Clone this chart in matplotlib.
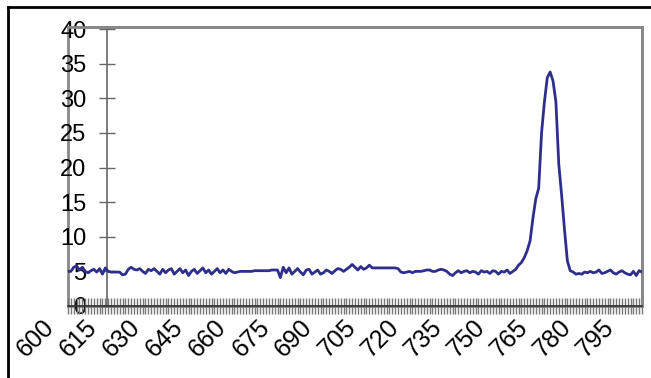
import numpy as np
import matplotlib
matplotlib.use("Agg")
import matplotlib.pyplot as plt
import matplotlib.transforms as mtransforms
from matplotlib.patches import Rectangle
from matplotlib.lines import Line2D

# wavelength (nm) and intensity
wavelength = np.arange(600, 801)
intensity = [
    5.0, 5.0, 5.6, 5.8, 5.2, 5.6, 5.0, 4.8, 5.1, 5.3,
    4.9, 5.4, 4.6, 5.5, 5.0, 4.9, 4.9, 4.9, 4.9, 4.5,
    4.6, 5.3, 5.6, 5.3, 5.2, 5.4, 5.0, 4.7, 5.3, 5.1,
    5.4, 5.0, 4.6, 5.3, 4.8, 5.2, 5.4, 4.6, 5.0, 5.4,
    4.8, 5.2, 4.4, 5.0, 5.3, 4.7, 5.1, 5.5, 4.8, 5.2,
    4.6, 5.0, 5.4, 4.8, 5.2, 4.7, 5.3, 5.0, 4.8, 4.9,
    5.0, 5.0, 5.0, 5.0, 5.0, 5.1, 5.1, 5.1, 5.1, 5.1,
    5.1, 5.2, 5.2, 5.2, 4.1, 5.6, 4.8, 5.5, 4.6, 5.0,
    5.4, 4.9, 4.5, 5.2, 5.3, 4.6, 4.9, 5.2, 4.6, 4.8,
    5.2, 5.0, 4.7, 5.1, 5.4, 5.3, 5.0, 5.3, 5.6, 6.0,
    5.6, 5.2, 5.7, 5.3, 5.5, 5.9, 5.5, 5.5, 5.5, 5.5,
    5.5, 5.5, 5.5, 5.5, 5.5, 5.4, 4.9, 4.8, 4.9, 5.0,
    4.8, 5.0, 5.0, 5.0, 5.1, 5.2, 5.2, 5.0, 5.0, 5.2,
    5.3, 5.2, 5.0, 4.6, 4.4, 4.8, 5.1, 4.8, 5.0, 5.1,
    4.8, 5.0, 4.9, 4.6, 5.1, 4.9, 5.0, 4.7, 5.1, 5.0,
    4.6, 5.0, 4.9, 5.2, 4.7, 5.0, 5.3, 5.9, 6.3, 7.0,
    8.0, 9.4, 12.7, 15.5, 17.0, 25.0, 29.5, 33.0, 33.8, 32.5,
    29.5, 20.5, 16.0, 11.0, 6.5, 5.1, 4.9, 4.6, 4.7, 4.6,
    4.9, 4.8, 5.0, 4.8, 4.9, 5.2, 4.7, 4.8, 5.0, 5.2,
    4.8, 4.6, 4.9, 5.1, 4.8, 4.6, 4.5, 5.0, 4.4, 5.1,
    4.9,
]
x_labels = [str(v) for v in range(600, 800, 15)]
y_ticks = [0, 5, 10, 15, 20, 25, 30, 35, 40]
y_axis_cross = 613.6

plt.rcParams['font.family'] = ['Liberation Sans', 'DejaVu Sans']

fig = plt.figure(figsize=(6.51, 3.78), dpi=100)
ax = fig.add_axes([68 / 651, 1 - 306 / 378, (642 - 68) / 651, (306 - 27) / 378])

ax.plot(wavelength, intensity, color='#2e2e8c', linewidth=2, zorder=3)

ax.set_xlim(600, 800)
ax.set_ylim(0, 40.3)

# gray plot-area frame
for s in ['top', 'right']:
    ax.spines[s].set_color('#888888')
    ax.spines[s].set_linewidth(2)
ax.add_patch(Rectangle((0, 0), 1, 1, transform=ax.transAxes, fill=False,
                       edgecolor='#888888', linewidth=2, clip_on=False, zorder=0))

# y axis crossing inside the plot
ax.spines['left'].set_position(('data', y_axis_cross))
ax.spines['left'].set_color('#666666')
ax.spines['left'].set_linewidth(1.2)
ax.spines['bottom'].set_color('#333333')
ax.spines['bottom'].set_linewidth(1.2)
ax.spines['bottom'].set_zorder(4)

ax.set_yticks(y_ticks)
ax.tick_params(axis='y', direction='inout', length=11.5, width=1, color='#666666',
               pad=9, labelsize=17)

# dense tick marks, one per nm, crossing the x axis
ax.vlines(wavelength, -0.027, 0.027, transform=ax.get_xaxis_transform(),
          colors='#777777', linewidth=1, clip_on=False, zorder=2)

ax.set_xticks([int(v) for v in x_labels], labels=x_labels)
ax.tick_params(axis='x', length=0, pad=0, labelsize=18)

offset = mtransforms.ScaledTranslation(-26 / 100, -9 / 100, fig.dpi_scale_trans)
for lab in ax.get_xticklabels():
    lab.set_rotation(45)
    lab.set_ha('right')
    lab.set_va('top')
    lab.set_rotation_mode('anchor')
    lab.set_transform(lab.get_transform() + offset)

# outer chart border (only top and left are in view)
fig.add_artist(Line2D([8 / 651, 1], [1 - 7 / 378, 1 - 7 / 378], color='black', linewidth=2))
fig.add_artist(Line2D([8 / 651, 8 / 651], [0, 1 - 7 / 378], color='black', linewidth=2))

fig.savefig('out.png', dpi=100)
